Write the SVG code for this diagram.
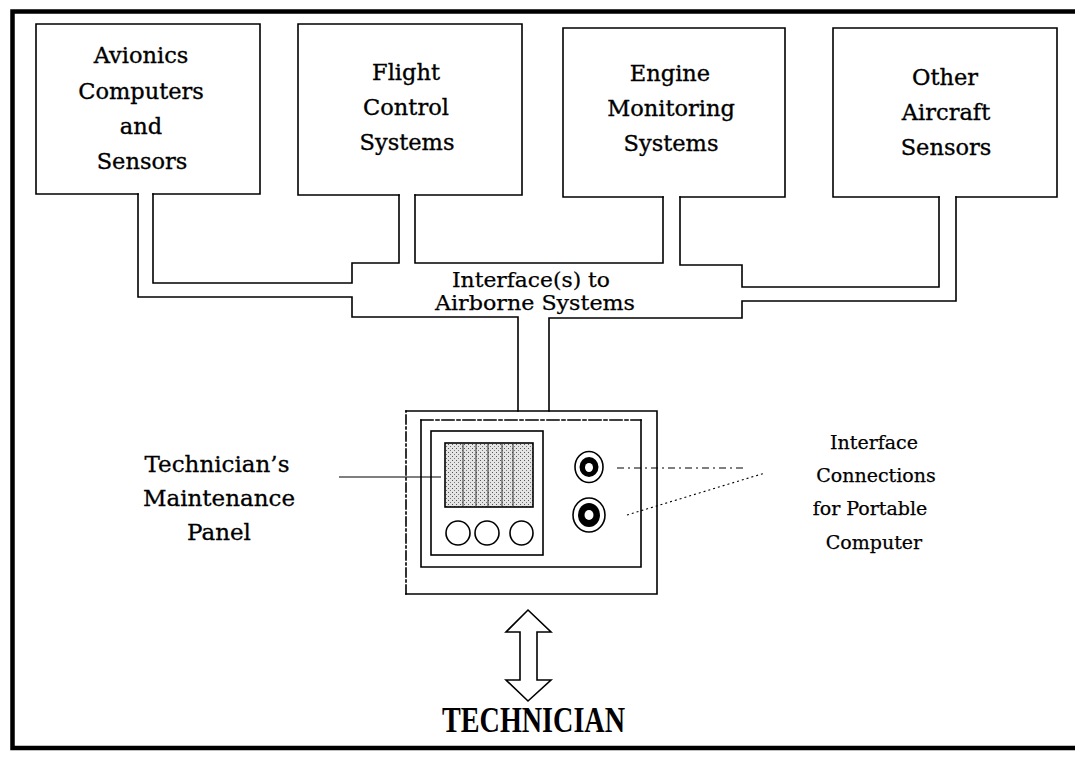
<svg xmlns="http://www.w3.org/2000/svg" width="1075" height="762" viewBox="0 0 1075 762">
  <style>
    .ln { fill: none; stroke: #000; stroke-width: 1.6; stroke-linejoin: miter; stroke-linecap: square; }
    .frame { fill: none; stroke: #000; stroke-width: 4.5; }
    .lbl { font-family: "DejaVu Serif", "Liberation Serif", serif; font-size: 22.5px; fill: #000; stroke: #000; stroke-width: 0.35; text-anchor: middle; }
    .side { font-family: "DejaVu Serif", "Liberation Serif", serif; font-size: 23px; fill: #000; stroke: #000; stroke-width: 0.3; text-anchor: middle; }
    .port { font-family: "DejaVu Serif", "Liberation Serif", serif; font-size: 19px; fill: #000; stroke: #000; stroke-width: 0.25; text-anchor: middle; }
    .bus { font-family: "DejaVu Serif", "Liberation Serif", serif; font-size: 21px; fill: #000; stroke: #000; stroke-width: 0.25; text-anchor: middle; }
    .big { font-family: "Liberation Serif", "Times New Roman", serif; font-size: 35px; font-weight: bold; fill: #000; text-anchor: middle; }
    .lead { fill: none; stroke: #000; stroke-width: 1.1; }
  </style>
  <defs>
    <pattern id="stipple" width="4" height="4" patternUnits="userSpaceOnUse">
      <rect width="4" height="4" fill="#e4e4e4"/>
      <rect x="0" y="0" width="1" height="1" fill="#555"/>
      <rect x="2" y="2" width="1" height="1" fill="#777"/>
    </pattern>
  </defs>

  <rect width="1075" height="762" fill="#fff"/>

  <!-- outer frame -->
  <path class="frame" d="M1075,11.5 H12.5 V748 H1075"/>

  <!-- airborne system boxes (bottom edges left open where the bus leaves) -->
  <g id="avionics">
    <path class="ln" d="M138,194 H36 V24 H260 V194 H153"/>
    <text class="lbl" x="141" y="63">Avionics</text>
    <text class="lbl" x="141" y="99">Computers</text>
    <text class="lbl" x="141" y="134">and</text>
    <text class="lbl" x="142" y="169">Sensors</text>
  </g>
  <g id="flight-control">
    <path class="ln" d="M399,195 H298 V24 H522 V195 H415"/>
    <text class="lbl" x="406" y="80">Flight</text>
    <text class="lbl" x="406" y="115">Control</text>
    <text class="lbl" x="407" y="150">Systems</text>
  </g>
  <g id="engine-monitoring">
    <path class="ln" d="M663,197 H563 V28 H785 V197 H680"/>
    <text class="lbl" x="670" y="81">Engine</text>
    <text class="lbl" x="671" y="116">Monitoring</text>
    <text class="lbl" x="671" y="151">Systems</text>
  </g>
  <g id="other-sensors">
    <path class="ln" d="M939,197 H833 V28 H1057 V197 H956"/>
    <text class="lbl" x="945" y="85">Other</text>
    <text class="lbl" x="946" y="120">Aircraft</text>
    <text class="lbl" x="946" y="155">Sensors</text>
  </g>

  <!-- interface bus: double-walled channels joining the boxes to the panel -->
  <g id="connectors">
    <path class="ln" d="M138,194 V297 H352 V317 H518 V411"/>
    <path class="ln" d="M153,194 V283 H352 V263 H399 V195"/>
    <path class="ln" d="M415,195 V263 H663 V197"/>
    <path class="ln" d="M680,197 V265 H742 V287 H939 V197"/>
    <path class="ln" d="M549,411 V318 H742 V301 H956 V197"/>
    <!-- leader lines -->
    <line class="lead" x1="339" y1="477" x2="441" y2="477"/>
    <line class="lead" x1="617" y1="468" x2="747" y2="468" stroke-dasharray="7 4 2 4"/>
    <line class="lead" x1="627" y1="515" x2="765" y2="473" stroke-dasharray="2 3"/>
    <!-- two-way arrow between panel and technician -->
    <path class="ln" d="M528,610 L551,632 H537 V680 H551 L528,701 L506,680 H520 V632 H506 Z" fill="#fff"/>
  </g>

  <g id="bus-label">
    <text class="bus" x="531" y="287" textLength="158" lengthAdjust="spacingAndGlyphs">Interface(s) to</text>
    <text class="bus" x="535" y="310" textLength="200" lengthAdjust="spacingAndGlyphs">Airborne Systems</text>
  </g>

  <!-- maintenance panel -->
  <g id="panel">
    <path class="ln" d="M406,411 H657 V594 H406"/>
    <path class="ln" d="M406,594 V411" stroke-dasharray="9 3 2 3"/>
    <path class="ln" d="M421,420 H641" stroke-dasharray="12 3 3 3"/>
    <path class="ln" d="M641,420 V567 H421 V420"/>
    <rect class="ln" x="431" y="431" width="112" height="124"/>
    <rect x="445" y="443" width="88" height="64" fill="url(#stipple)" stroke="#000" stroke-width="1.6"/>
    <g stroke="#333" stroke-width="1">
      <line x1="463" y1="444" x2="463" y2="506"/>
      <line x1="476" y1="444" x2="476" y2="506"/>
      <line x1="488" y1="444" x2="488" y2="506"/>
      <line x1="502" y1="444" x2="502" y2="506"/>
      <line x1="513" y1="444" x2="513" y2="506"/>
    </g>
    <ellipse class="ln" cx="458" cy="533" rx="12" ry="12"/>
    <ellipse class="ln" cx="487" cy="533" rx="12" ry="12"/>
    <ellipse class="ln" cx="521.5" cy="533" rx="11.5" ry="12"/>
    <!-- connector sockets -->
    <ellipse class="ln" cx="589" cy="467" rx="14" ry="15.5"/>
    <ellipse cx="589" cy="467" rx="9.5" ry="10" fill="#000"/>
    <ellipse cx="589" cy="467.5" rx="4" ry="4.5" fill="#fff"/>
    <ellipse class="ln" cx="589" cy="515" rx="16" ry="17"/>
    <ellipse cx="589" cy="515" rx="11" ry="12" fill="#000"/>
    <ellipse cx="589" cy="515" rx="4.5" ry="5" fill="#fff"/>
  </g>

  <g id="panel-label">
    <text class="side" x="217" y="472">Technician’s</text>
    <text class="side" x="219" y="506">Maintenance</text>
    <text class="side" x="219" y="540">Panel</text>
  </g>

  <g id="ports-label">
    <text class="port" x="874" y="449">Interface</text>
    <text class="port" x="876" y="482">Connections</text>
    <text class="port" x="870" y="515">for Portable</text>
    <text class="port" x="874" y="549">Computer</text>
  </g>

  <g id="technician">
    <text class="big" x="533.5" y="732" textLength="183" lengthAdjust="spacingAndGlyphs">TECHNICIAN</text>
  </g>
</svg>
